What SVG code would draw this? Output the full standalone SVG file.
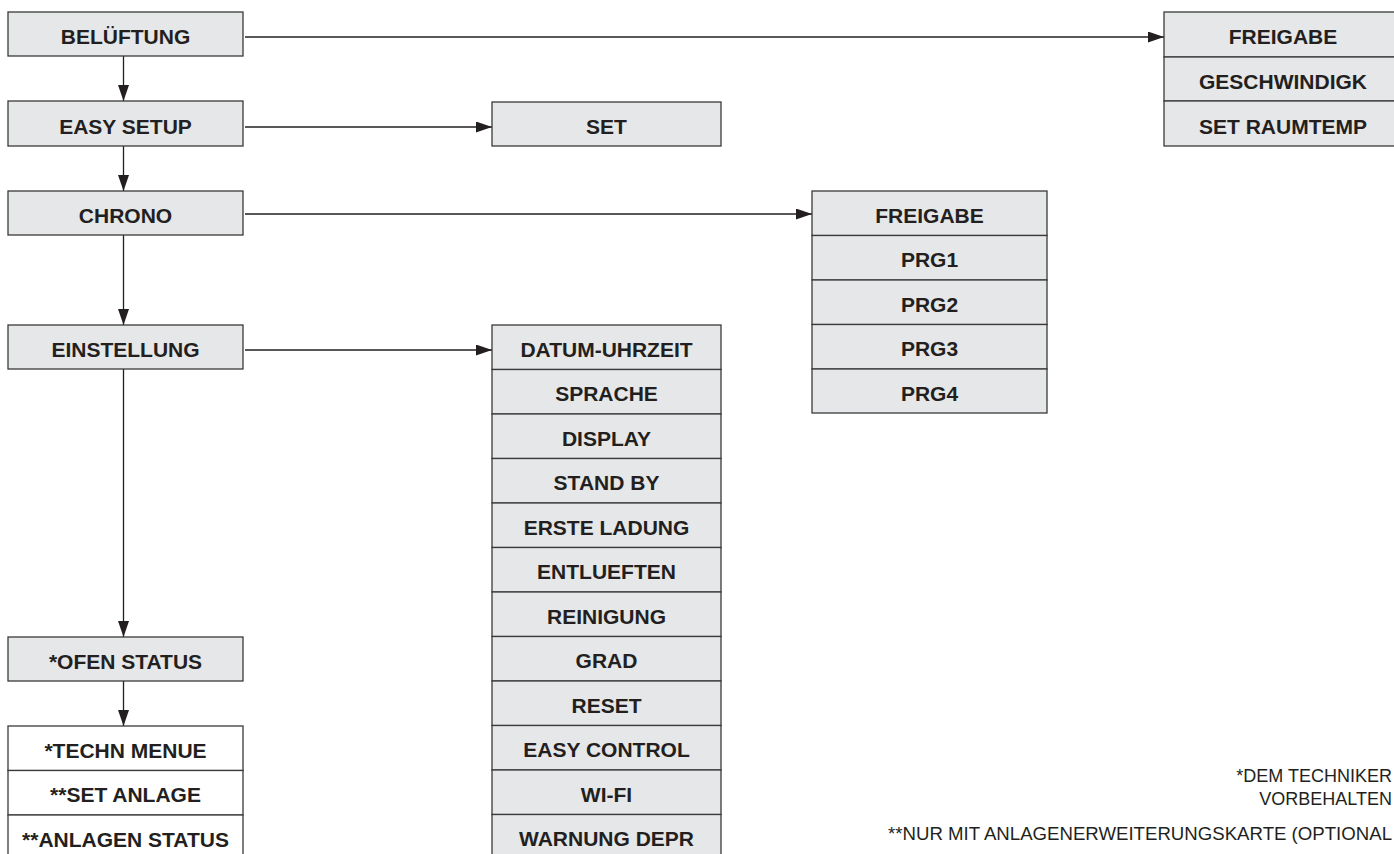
<svg xmlns="http://www.w3.org/2000/svg" width="1394" height="854" viewBox="0 0 1394 854">
<defs>
<marker id="ah" viewBox="0 0 16 11" refX="16" refY="5.5" markerWidth="16" markerHeight="11" markerUnits="userSpaceOnUse" orient="auto">
<path d="M0,0 L16,5.5 L0,11 z" fill="#231f20"/>
</marker>
<style>
.b{fill:#e6e7e8;stroke:#3a3a3a;stroke-width:1.3}
.w{fill:#ffffff;stroke:#3a3a3a;stroke-width:1.3}
.t{font-family:"Liberation Sans",Arial,sans-serif;font-weight:bold;font-size:21px;fill:#231f20;text-anchor:middle}
.f{font-family:"Liberation Sans",Arial,sans-serif;font-size:18px;fill:#231f20;text-anchor:end}
.c{fill:none;stroke:#231f20;stroke-width:1.3;marker-end:url(#ah)}
</style>
</defs>
<rect width="1394" height="854" fill="#ffffff"/>

<g id="connectors">
<line class="c" x1="123.5" y1="56" x2="123.5" y2="101"/>
<line class="c" x1="123.5" y1="146" x2="123.5" y2="191"/>
<line class="c" x1="123.5" y1="235" x2="123.5" y2="325"/>
<line class="c" x1="123.5" y1="369" x2="123.5" y2="637"/>
<line class="c" x1="123.5" y1="681" x2="123.5" y2="726"/>
<line class="c" x1="245" y1="37" x2="1164" y2="37"/>
<line class="c" x1="245" y1="127" x2="492" y2="127"/>
<line class="c" x1="245" y1="214" x2="812" y2="214"/>
<line class="c" x1="245" y1="350" x2="492" y2="350"/>
</g>

<g id="belueftung">
<rect class="b" x="8" y="12" width="235" height="44"/>
<text class="t" x="125.5" y="43.5">BELÜFTUNG</text>
</g>
<g id="easy-setup">
<rect class="b" x="8" y="101" width="235" height="45"/>
<text class="t" x="125.5" y="133.5">EASY SETUP</text>
</g>
<g id="chrono">
<rect class="b" x="8" y="191" width="235" height="44"/>
<text class="t" x="125.5" y="222.5">CHRONO</text>
</g>
<g id="einstellung">
<rect class="b" x="8" y="325" width="235" height="44"/>
<text class="t" x="125.5" y="356.5">EINSTELLUNG</text>
</g>
<g id="ofen-status">
<rect class="b" x="8" y="637" width="235" height="44"/>
<text class="t" x="125.5" y="668.5">*OFEN STATUS</text>
</g>
<g id="techn-menu">
<rect class="w" x="8" y="726" width="235" height="44.5"/>
<rect class="w" x="8" y="770.5" width="235" height="44.5"/>
<rect class="w" x="8" y="815" width="235" height="60"/>
<text class="t" x="125.5" y="757.5">*TECHN MENUE</text>
<text class="t" x="125.5" y="802">**SET ANLAGE</text>
<text class="t" x="125.5" y="846.5">**ANLAGEN STATUS</text>
</g>

<g id="set">
<rect class="b" x="492" y="102" width="229" height="44"/>
<text class="t" x="606.5" y="134">SET</text>
</g>

<g id="belueftung-menu">
<rect class="b" x="1164" y="12" width="240" height="45"/>
<rect class="b" x="1164" y="57" width="240" height="44"/>
<rect class="b" x="1164" y="101" width="240" height="45"/>
<text class="t" x="1283" y="44">FREIGABE</text>
<text class="t" x="1283" y="88.5">GESCHWINDIGK</text>
<text class="t" x="1283" y="133.5">SET RAUMTEMP</text>
</g>

<g id="chrono-menu">
<rect class="b" x="812" y="191" width="235" height="44.5"/>
<rect class="b" x="812" y="235.5" width="235" height="44.5"/>
<rect class="b" x="812" y="280" width="235" height="44.5"/>
<rect class="b" x="812" y="324.5" width="235" height="44.5"/>
<rect class="b" x="812" y="369" width="235" height="44"/>
<text class="t" x="929.5" y="222.5">FREIGABE</text>
<text class="t" x="929.5" y="267">PRG1</text>
<text class="t" x="929.5" y="311.5">PRG2</text>
<text class="t" x="929.5" y="356">PRG3</text>
<text class="t" x="929.5" y="400.5">PRG4</text>
</g>

<g id="einstellung-menu">
<rect class="b" x="492" y="325" width="229" height="44.5"/>
<rect class="b" x="492" y="369.5" width="229" height="44.5"/>
<rect class="b" x="492" y="414" width="229" height="44.5"/>
<rect class="b" x="492" y="458.5" width="229" height="44.5"/>
<rect class="b" x="492" y="503" width="229" height="44.5"/>
<rect class="b" x="492" y="547.5" width="229" height="44.5"/>
<rect class="b" x="492" y="592" width="229" height="44.5"/>
<rect class="b" x="492" y="636.5" width="229" height="44.5"/>
<rect class="b" x="492" y="681" width="229" height="44.5"/>
<rect class="b" x="492" y="725.5" width="229" height="44.5"/>
<rect class="b" x="492" y="770" width="229" height="44.5"/>
<rect class="b" x="492" y="814.5" width="229" height="60"/>
<text class="t" x="606.5" y="356.5">DATUM-UHRZEIT</text>
<text class="t" x="606.5" y="401">SPRACHE</text>
<text class="t" x="606.5" y="445.5">DISPLAY</text>
<text class="t" x="606.5" y="490">STAND BY</text>
<text class="t" x="606.5" y="534.5">ERSTE LADUNG</text>
<text class="t" x="606.5" y="579">ENTLUEFTEN</text>
<text class="t" x="606.5" y="623.5">REINIGUNG</text>
<text class="t" x="606.5" y="668">GRAD</text>
<text class="t" x="606.5" y="712.5">RESET</text>
<text class="t" x="606.5" y="757">EASY CONTROL</text>
<text class="t" x="606.5" y="801.5">WI-FI</text>
<text class="t" x="606.5" y="846">WARNUNG DEPR</text>
</g>

<g id="footnotes">
<text class="f" x="1392" y="782">*DEM TECHNIKER</text>
<text class="f" x="1392" y="805">VORBEHALTEN</text>
<text class="f" x="1392" y="840" textLength="504" lengthAdjust="spacingAndGlyphs">**NUR MIT ANLAGENERWEITERUNGSKARTE (OPTIONAL</text>
</g>
</svg>
